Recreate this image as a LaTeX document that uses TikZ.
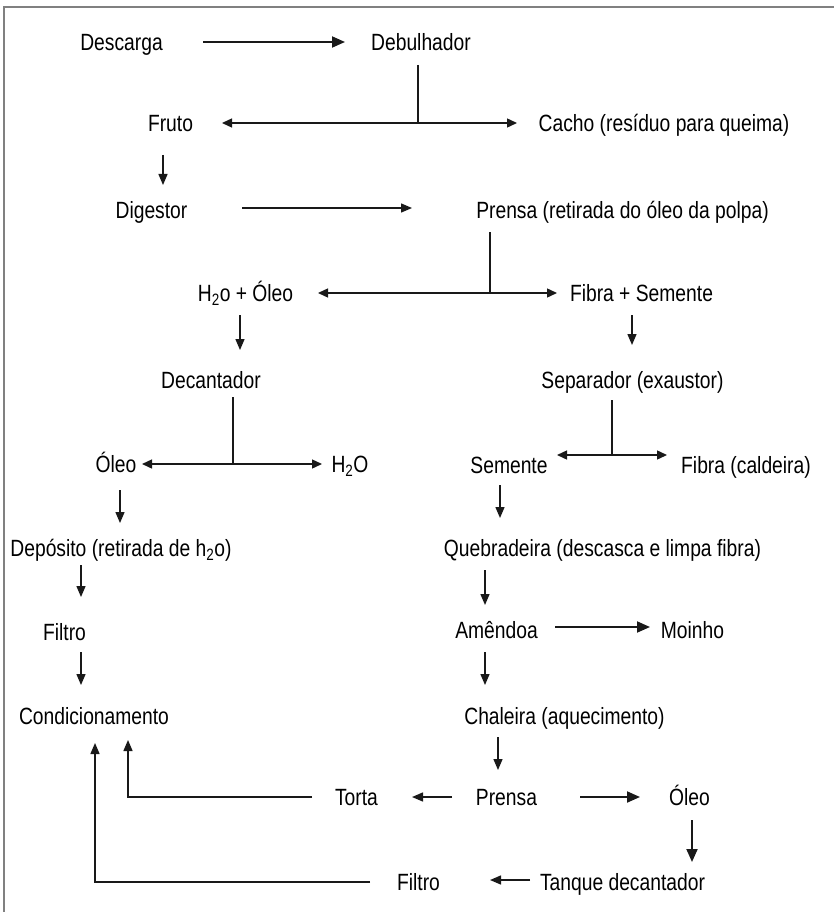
\documentclass[tikz,border=0pt]{standalone}
\usepackage{fontspec}
\setmainfont{Liberation Sans}[FakeStretch=0.82]
\usetikzlibrary{arrows.meta}
\begin{document}
\begin{tikzpicture}[x=1pt,y=-1pt,
  lbl/.style={inner sep=0pt,text height=17pt,text depth=0pt,font=\fontsize{23.5}{28}\selectfont},
  ln/.style={line width=1.4pt,draw=black!90},
  arr/.style={ln,-{Triangle[length=11pt,width=9pt]}},
  arrbig/.style={ln,line width=1.9pt,-{Triangle[length=13pt,width=11pt]}},
  darr/.style={ln,{Triangle[length=10pt,width=9pt]}-{Triangle[length=10pt,width=9pt]}},
  frame/.style={draw=black!50,line width=2pt}]
\useasboundingbox (0,0) rectangle (834,912);
\draw[frame] (834,7) -- (4,7) -- (4,912);

\node[lbl] (descarga) at (121.5,42) {Descarga};
\node[lbl] (debulhador) at (421,42) {Debulhador};
\node[lbl] (fruto) at (170.5,123) {Fruto};
\node[lbl] (cacho) at (664,123) {Cacho (resíduo para queima)};
\node[lbl] (digestor) at (151.5,210) {Digestor};
\node[lbl] (prensa1) at (622.5,210) {Prensa (retirada do óleo da polpa)};
\node[lbl] (h2oleo) at (245.5,293) {H\textsubscript{2}o + Óleo};
\node[lbl] (fibsem) at (641.5,293) {Fibra + Semente};
\node[lbl] (decantador) at (211,380) {Decantador};
\node[lbl] (separador) at (632.5,380) {Separador (exaustor)};
\node[lbl] (oleo1) at (116,464) {Óleo};
\node[lbl] (h2o) at (350,464) {H\textsubscript{2}O};
\node[lbl] (semente) at (509,465) {Semente};
\node[lbl] (fibra) at (746,465) {Fibra (caldeira)};
\node[lbl] (deposito) at (121,548) {Depósito (retirada de h\textsubscript{2}o)};
\node[lbl] (quebradeira) at (602.5,548) {Quebradeira (descasca e limpa fibra)};
\node[lbl] (filtro1) at (64.5,632) {Filtro};
\node[lbl] (amendoa) at (496.5,630) {Amêndoa};
\node[lbl] (moinho) at (692.5,630) {Moinho};
\node[lbl] (condic) at (94,716) {Condicionamento};
\node[lbl] (chaleira) at (564.5,716) {Chaleira (aquecimento)};
\node[lbl] (torta) at (356.5,797) {Torta};
\node[lbl] (prensa2) at (506.5,797) {Prensa};
\node[lbl] (oleo2) at (689.5,797) {Óleo};
\node[lbl] (filtro2) at (418.5,882) {Filtro};
\node[lbl] (tanque) at (622.5,882) {Tanque decantador};

\coordinate (j1) at (418,123);
\coordinate (j2) at (490,293);
\coordinate (j3) at (233,464);
\coordinate (j4) at (612,455);

\draw[arrbig] ([shift={(81.5,0)}]descarga.center) -- ([shift={(-76,0)}]debulhador.center);
\draw[ln] ([shift={(-3,23)}]debulhador.center) -- (j1);
\draw[darr] ([shift={(51.5,0)}]fruto.center) -- ([shift={(-147,0)}]cacho.center);
\draw[arr] ([shift={(-7.5,32)}]fruto.center) -- ([shift={(11.5,-25)}]digestor.center);
\draw[arr] ([shift={(90.5,-2)}]digestor.center) -- ([shift={(-210.5,-2)}]prensa1.center);
\draw[ln] ([shift={(-132.5,22)}]prensa1.center) -- (j2);
\draw[darr] ([shift={(72.5,0)}]h2oleo.center) -- ([shift={(-84.5,0)}]fibsem.center);
\draw[arr] ([shift={(-5.5,22)}]h2oleo.center) -- ([shift={(29,-30)}]decantador.center);
\draw[arr] ([shift={(-9.5,22)}]fibsem.center) -- ([shift={(-0.5,-35)}]separador.center);
\draw[ln] ([shift={(22,17)}]decantador.center) -- (j3);
\draw[darr] ([shift={(26,0)}]oleo1.center) -- ([shift={(-28,0)}]h2o.center);
\draw[ln] ([shift={(-20.5,20)}]separador.center) -- (j4);
\draw[darr] ([shift={(48,-10)}]semente.center) -- ([shift={(-79,-10)}]fibra.center);
\draw[arr] ([shift={(4,26)}]oleo1.center) -- ([shift={(-1,-25)}]deposito.center);
\draw[arr] ([shift={(-9,20)}]semente.center) -- ([shift={(-102.5,-30)}]quebradeira.center);
\draw[arr] ([shift={(-40,17)}]deposito.center) -- ([shift={(16.5,-35)}]filtro1.center);
\draw[arr] ([shift={(-117.5,22)}]quebradeira.center) -- ([shift={(-11.5,-25)}]amendoa.center);
\draw[arrbig] ([shift={(58.5,-3)}]amendoa.center) -- ([shift={(-42.5,-3)}]moinho.center);
\draw[arr] ([shift={(16.5,20)}]filtro1.center) -- ([shift={(-13,-31)}]condic.center);
\draw[arr] ([shift={(-11.5,22)}]amendoa.center) -- ([shift={(-79.5,-31)}]chaleira.center);
\draw[arr] ([shift={(-66.5,21)}]chaleira.center) -- ([shift={(-8.5,-27)}]prensa2.center);
\draw[arr] ([shift={(-54.5,0)}]prensa2.center) -- ([shift={(55.5,0)}]torta.center);
\draw[arrbig] ([shift={(73.5,0)}]prensa2.center) -- ([shift={(-49.5,0)}]oleo2.center);
\draw[arr] ([shift={(-44.5,0)}]torta.center) -| ([shift={(34,24)}]condic.center);
\draw[arrbig] ([shift={(2.5,23)}]oleo2.center) -- ([shift={(69.5,-20)}]tanque.center);
\draw[arr] ([shift={(-92.5,-2)}]tanque.center) -- ([shift={(71.5,-2)}]filtro2.center);
\draw[arr] ([shift={(-48.5,0)}]filtro2.center) -| ([shift={(1,27)}]condic.center);
\end{tikzpicture}
\end{document}
